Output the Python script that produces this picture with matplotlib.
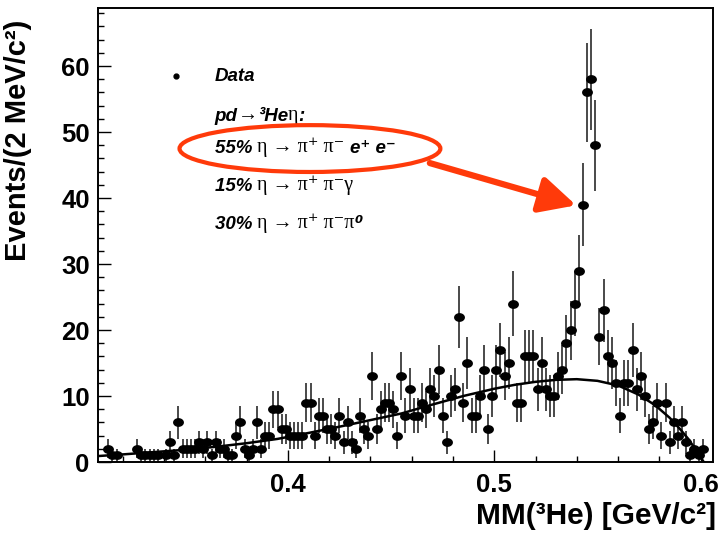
import numpy as np
import matplotlib
matplotlib.use("Agg")
import matplotlib.pyplot as plt
from matplotlib.patches import Ellipse
from matplotlib.path import Path
from matplotlib.ticker import MultipleLocator

# histogram of MM(3He), 2 MeV bins starting at 0.310 GeV
bin_lo = 0.310
bin_width = 0.002
counts = [
    0, 2, 1, 1, 0, 0, 0, 0, 2, 1,
    1, 1, 1, 1, 0, 1, 3, 1, 6, 2,
    2, 2, 2, 3, 2, 3, 1, 3, 2, 2,
    1, 1, 4, 6, 2, 1, 2, 6, 2, 4,
    4, 8, 8, 5, 5, 4, 4, 4, 4, 9,
    9, 4, 7, 7, 5, 5, 4, 7, 3, 6,
    3, 2, 7, 5, 4, 13, 5, 8, 9, 9,
    8, 4, 13, 7, 11, 7, 7, 9, 8, 11,
    10, 14, 7, 3, 10, 11, 22, 9, 15, 7,
    7, 10, 14, 5, 10, 14, 17, 13, 15, 24,
    9, 9, 16, 16, 16, 11, 15, 11, 10, 10,
    13, 14, 18, 20, 24, 29, 39, 56, 58, 48,
    19, 23, 16, 15, 12, 7, 12, 12, 17, 11,
    13, 10, 5, 6, 9, 4, 9, 3, 6, 4,
    6, 3, 1, 2, 1, 2,
]

# background fit curve
fit_x = [0.308, 0.320, 0.335, 0.350, 0.365, 0.380, 0.395, 0.410, 0.425, 0.440,
         0.455, 0.470, 0.485, 0.500, 0.510, 0.520, 0.530, 0.540, 0.550, 0.560,
         0.570, 0.578, 0.585, 0.590, 0.594, 0.598, 0.6015]
fit_y = [0.9, 1.15, 1.5, 1.85, 2.3, 2.85, 3.5, 4.4, 5.35, 6.35,
         7.35, 8.7, 10.0, 11.1, 11.7, 12.15, 12.45, 12.55, 12.3, 11.6,
         10.2, 8.6, 6.7, 5.0, 3.5, 1.7, 0.0]

SANS = ["Liberation Sans", "DejaVu Sans"]
SERIF = ["Liberation Serif", "DejaVu Serif"]
RED = "#ff3a0a"

counts = np.array(counts, dtype=float)
centers = bin_lo + bin_width * (np.arange(len(counts)) + 0.5)
nz = counts > 0

fig = plt.figure(figsize=(7.28, 5.4), dpi=100)
ax = fig.add_axes([98 / 728, 78 / 540, 615 / 728, 454 / 540])

# oval marker like the ROOT full circle in the picture
t = np.linspace(0, 2 * np.pi, 41)
oval = Path(np.column_stack([np.cos(t), 0.78 * np.sin(t)]), closed=True)

ax.errorbar(centers[nz], counts[nz], yerr=np.sqrt(counts[nz]), fmt="none",
            ecolor="#2a2a2a", elinewidth=1.2, capsize=0, zorder=2)
ax.plot(centers[nz], counts[nz], linestyle="none", marker=oval, ms=6.8,
        color="black", zorder=3)
ax.plot(fit_x, fit_y, color="black", lw=1.8, zorder=4)

ax.set_xlim(0.308, 0.606)
ax.set_ylim(0, 68.8)
ax.xaxis.set_major_locator(MultipleLocator(0.1))
ax.xaxis.set_minor_locator(MultipleLocator(0.02))
ax.yaxis.set_major_locator(MultipleLocator(10))
ax.yaxis.set_minor_locator(MultipleLocator(2))
ax.tick_params(which="both", direction="in", top=False, right=False, width=1.0)
ax.tick_params(which="major", length=9)
ax.tick_params(which="minor", length=4.5)
ax.tick_params(axis="x", pad=8)
ax.tick_params(axis="y", pad=6)
for s in ax.spines.values():
    s.set_linewidth(1.4)
ax.xaxis.set_major_formatter(plt.FuncFormatter(lambda v, p: f"{v:.1f}"))
ax.yaxis.set_major_formatter(plt.FuncFormatter(lambda v, p: f"{v:.0f}"))
for lab in ax.get_xticklabels() + ax.get_yticklabels():
    lab.set_fontfamily(SANS)
    lab.set_fontweight("bold")
    lab.set_fontsize(18.5)

ax.set_xlabel("MM(³He) [GeV/c²]", family=SANS, weight="bold", fontsize=21.5,
              loc="right")
ax.xaxis.set_label_coords(1.005, -0.088)
ax.set_ylabel("Events/(2 MeV/c²)", family=SANS, weight="bold", fontsize=21,
              loc="top")
ax.yaxis.set_label_coords(-0.108, 0.975)

# legend drawn as text lines
LEG = 13.5
bi = dict(family=SANS, weight="bold", style="italic", fontsize=LEG)
sym = dict(family=SERIF, fontsize=LEG + 1)


def line(pieces, fx, fy):
    txt, kw = pieces[0]
    prev = ax.text(fx, fy, txt, transform=ax.transAxes, va="bottom", **kw)
    for txt, kw in pieces[1:]:
        prev = ax.annotate(txt, xy=(1, 0), xycoords=prev, va="bottom", **kw)


ax.plot([0.127], [0.850], transform=ax.transAxes, marker="o", ms=3.5,
        color="black", linestyle="none")
line([("Data", bi)], 0.190, 0.830)
line([("pd", bi), ("→", sym), ("³He", bi), ("η", sym), (":", bi)], 0.190, 0.742)
line([("55% ", bi), ("η → π⁺ π⁻ ", sym), ("e⁺ e⁻", bi)], 0.190, 0.672)
line([("15% ", bi), ("η → π⁺ π⁻γ", sym)], 0.190, 0.588)
line([("30% ", bi), ("η → π⁺ π⁻π", sym), ("⁰", bi)], 0.190, 0.504)

# red highlight ellipse and arrow
ax.add_patch(Ellipse((0.4107, 47.5), 0.1264, 7.1, fill=False, edgecolor=RED,
                     lw=3.0, zorder=5))
ax.annotate("", xy=(0.5397, 38.9), xytext=(0.4688, 45.3),
            arrowprops=dict(arrowstyle="-|>,head_length=1.1,head_width=0.55",
                            color=RED, lw=4.5, shrinkA=0, shrinkB=0,
                            mutation_scale=20), zorder=5)

fig.savefig("out.png", dpi=100)
